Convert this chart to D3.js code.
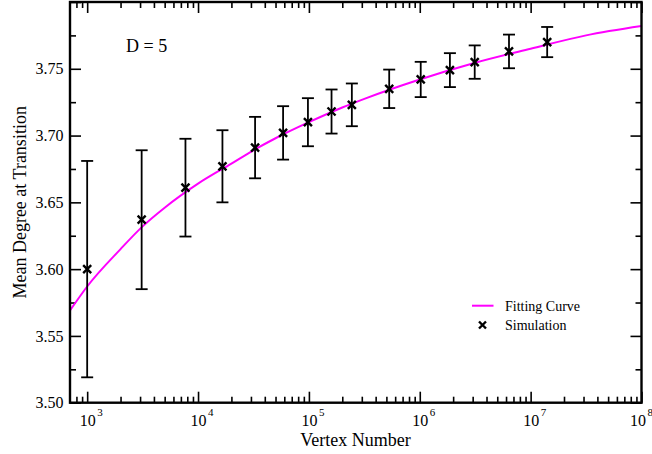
<!DOCTYPE html>
<html>
<head>
<meta charset="utf-8">
<script src="https://cdn.jsdelivr.net/npm/d3@7"></script>
<style>
  html, body { margin: 0; padding: 0; background: #fff; }
  svg { display: block; }
  text { font-family: "Liberation Serif", "Times New Roman", serif; fill: #000; }
</style>
</head>
<body>
<svg id="chart" width="652" height="454"></svg>
<script>
// ---- Data ----
const vertexNumbers = [1000, 3100, 7700, 16600, 32700, 58500, 98000, 160000, 244000, 530000, 1020000, 1870000, 3130000, 6380000, 14100000];
const meanDegrees   = [3.600, 3.637, 3.661, 3.677, 3.691, 3.702, 3.710, 3.718, 3.723, 3.735, 3.742, 3.749, 3.755, 3.763, 3.770];
const errors        = [0.081, 0.052, 0.0366, 0.027, 0.023, 0.020, 0.018, 0.0165, 0.016, 0.0144, 0.0132, 0.0127, 0.0125, 0.0126, 0.0113];

const curveN      = [700, 1000, 2000, 3162, 5000, 10000, 20000, 31623, 50000, 100000, 200000, 316228, 1000000, 3162278, 10000000, 31622777, 100000000];
const curveDegree = [3.569, 3.587, 3.615, 3.632, 3.646, 3.664, 3.679, 3.689, 3.698, 3.710, 3.721, 3.7275, 3.742, 3.7545, 3.765, 3.775, 3.782];

const xMajorTicks = [1e3, 1e4, 1e5, 1e6, 1e7, 1e8];
const xTickExponents = ["3", "4", "5", "6", "7", "8"];
const yMajorTicks = [3.50, 3.55, 3.60, 3.65, 3.70, 3.75, 3.80];
const yTickLabels = ["3.50", "3.55", "3.60", "3.65", "3.70", "3.75", ""];
const yMinorTicks = [3.525, 3.575, 3.625, 3.675, 3.725, 3.775];

const xDomain = [700, 1e8];
const yDomain = [3.5, 3.8];

const annotation = "D = 5";
const xTitle = "Vertex Number";
const yTitle = "Mean Degree at Transition";
const legendLabels = ["Fitting Curve", "Simulation"];

// ---- Layout ----
const L = 70, R = 641.5, T = 2, B = 402.7;
const svg = d3.select("#chart");

const x = d3.scaleLog().domain(xDomain).range([L, R]);
const y = d3.scaleLinear().domain(yDomain).range([B, T]);

// minor x ticks
const xMinorTicks = [];
for (let e = 2; e <= 7; e++) {
  for (let k = 2; k <= 9; k++) {
    const v = k * Math.pow(10, e);
    if (v > xDomain[0] && v < xDomain[1]) xMinorTicks.push(v);
  }
}

const tickStroke = 1.6;
function styleAxis(g) {
  g.select(".domain").remove();
  g.selectAll(".tick line").attr("stroke", "#000").attr("stroke-width", tickStroke);
}

// Bottom axis (major + minor, inward)
svg.append("g").attr("transform", `translate(0,${B})`)
  .call(d3.axisBottom(x).tickValues(xMinorTicks).tickSize(-6).tickFormat(() => ""))
  .call(styleAxis);
const bottomMajor = svg.append("g").attr("transform", `translate(0,${B})`)
  .call(d3.axisBottom(x).tickValues(xMajorTicks).tickSize(-11).tickFormat(() => ""))
  .call(styleAxis);
bottomMajor.selectAll(".tick text").remove();
bottomMajor.selectAll(".tick").each(function(d, i) {
  const g = d3.select(this);
  const shift = (i === xMajorTicks.length - 1) ? -4 : 0;
  g.append("text").attr("x", shift).attr("y", 23.5).attr("text-anchor", "middle")
    .style("font-size", "16px").text("10");
  g.append("text").attr("x", 9.5 + shift).attr("y", 13).attr("text-anchor", "start")
    .style("font-size", "11px").text(xTickExponents[i]);
});

// Top axis (inward)
svg.append("g").attr("transform", `translate(0,${T})`)
  .call(d3.axisTop(x).tickValues(xMinorTicks).tickSize(-6).tickFormat(() => ""))
  .call(styleAxis);
svg.append("g").attr("transform", `translate(0,${T})`)
  .call(d3.axisTop(x).tickValues(xMajorTicks).tickSize(-11).tickFormat(() => ""))
  .call(styleAxis);

// Left axis
svg.append("g").attr("transform", `translate(${L},0)`)
  .call(d3.axisLeft(y).tickValues(yMinorTicks).tickSize(-6).tickFormat(() => ""))
  .call(styleAxis);
const leftMajor = svg.append("g").attr("transform", `translate(${L},0)`)
  .call(d3.axisLeft(y).tickValues(yMajorTicks).tickSize(-11).tickPadding(6.5)
    .tickFormat((d, i) => yTickLabels[i]))
  .call(styleAxis);
leftMajor.selectAll(".tick text")
  .style("font-size", "16px").style("font-family", "'Liberation Serif', serif").attr("fill", "#000");

// Right axis
svg.append("g").attr("transform", `translate(${R},0)`)
  .call(d3.axisRight(y).tickValues(yMinorTicks).tickSize(-6).tickFormat(() => ""))
  .call(styleAxis);
svg.append("g").attr("transform", `translate(${R},0)`)
  .call(d3.axisRight(y).tickValues(yMajorTicks).tickSize(-11).tickFormat(() => ""))
  .call(styleAxis);

// Clip
svg.append("clipPath").attr("id", "plotClip")
  .append("rect").attr("x", L).attr("y", T).attr("width", R - L).attr("height", B - T);

// Fitting curve
const curveData = curveN.map((n, i) => [n, curveDegree[i]]);
svg.append("path")
  .datum(curveData)
  .attr("clip-path", "url(#plotClip)")
  .attr("fill", "none")
  .attr("stroke", "#ff00ff")
  .attr("stroke-width", 2)
  .attr("d", d3.line().x(d => x(d[0])).y(d => y(d[1])).curve(d3.curveMonotoneX));

// Error bars
const pts = vertexNumbers.map((n, i) => ({ n, v: meanDegrees[i], e: errors[i] }));
const eb = svg.append("g").attr("stroke", "#000").attr("stroke-width", 1.8).attr("fill", "none");
const capW = 6;
pts.forEach(p => {
  const cx = x(p.n), y1 = y(p.v + p.e), y2 = y(p.v - p.e);
  eb.append("line").attr("x1", cx).attr("x2", cx).attr("y1", y1).attr("y2", y2);
  eb.append("line").attr("x1", cx - capW).attr("x2", cx + capW).attr("y1", y1).attr("y2", y1);
  eb.append("line").attr("x1", cx - capW).attr("x2", cx + capW).attr("y1", y2).attr("y2", y2);
});

// X markers
function drawCross(g, cx, cy, s) {
  g.append("path")
    .attr("d", `M${cx - s},${cy - s}L${cx + s},${cy + s}M${cx - s},${cy + s}L${cx + s},${cy - s}`)
    .attr("stroke", "#000").attr("stroke-width", 2.4).attr("fill", "none");
}
const mk = svg.append("g");
pts.forEach(p => drawCross(mk, x(p.n), y(p.v), 4));

// Frame
svg.append("rect")
  .attr("x", L).attr("y", T).attr("width", R - L).attr("height", B - T)
  .attr("fill", "none").attr("stroke", "#000").attr("stroke-width", 2.4);

// Annotation
svg.append("text").attr("x", 126).attr("y", 52)
  .style("font-size", "18px").text(annotation);

// Axis titles
svg.append("text").attr("x", 355.5).attr("y", 446).attr("text-anchor", "middle")
  .style("font-size", "18px").text(xTitle);
svg.append("text")
  .attr("transform", `translate(26,${(T + B) / 2}) rotate(-90)`)
  .attr("text-anchor", "middle")
  .style("font-size", "18px").text(yTitle);

// Legend
const lg = svg.append("g");
lg.append("line").attr("x1", 472).attr("x2", 493.5).attr("y1", 305.7).attr("y2", 305.7)
  .attr("stroke", "#ff00ff").attr("stroke-width", 2);
lg.append("text").attr("x", 505).attr("y", 310.5).style("font-size", "14px").text(legendLabels[0]);
drawCross(lg, 482.5, 325, 3.5);
lg.append("text").attr("x", 505).attr("y", 330).style("font-size", "14px").text(legendLabels[1]);
</script>
</body>
</html>
